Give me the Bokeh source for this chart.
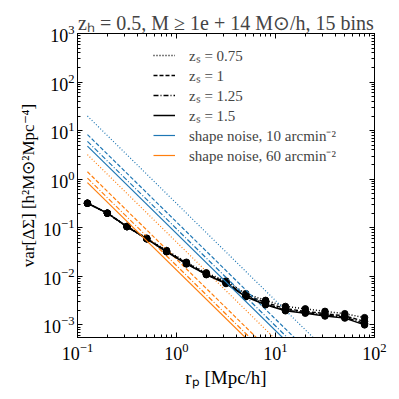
from bokeh.plotting import figure
from bokeh.models import LogAxis, FixedTicker, Legend, LegendItem, Range1d, CustomJSTickFormatter
from bokeh.embed import file_html
from bokeh.resources import INLINE

# ---- data ----
r_p = [0.126, 0.200, 0.316, 0.501, 0.794, 1.26, 2.00, 3.16, 5.01, 7.94,
       12.6, 20.0, 31.6, 50.1, 79.4]

var_zs075 = [0.32, 0.20, 0.107, 0.061, 0.034, 0.0195, 0.0118, 0.0080, 0.0044,
             0.0032, 0.0024, 0.00214, 0.0019, 0.0017, 0.00141]
var_zs100 = [0.32, 0.20, 0.106, 0.060, 0.033, 0.0188, 0.0113, 0.0075, 0.0041,
             0.0029, 0.00215, 0.0019, 0.0017, 0.00153, 0.00118]
var_zs125 = [0.32, 0.20, 0.105, 0.059, 0.0325, 0.0183, 0.0110, 0.0073, 0.0039,
             0.0027, 0.0020, 0.0018, 0.0016, 0.00144, 0.00107]
var_zs150 = [0.32, 0.20, 0.105, 0.059, 0.032, 0.018, 0.0108, 0.0071, 0.0038,
             0.0026, 0.00195, 0.00174, 0.00152, 0.00138, 0.00100]

# shape noise lines (first and last bin)
noise_r = [0.126, 79.4]
noise10_zs075 = [20.0, 5.02e-5]
noise10_zs100 = [8.3, 2.08e-5]
noise10_zs125 = [6.0, 1.51e-5]
noise10_zs150 = [4.8, 1.21e-5]
noise60_zs075 = [3.2, 8.0e-6]
noise60_zs100 = [1.42, 3.57e-6]
noise60_zs125 = [1.05, 2.64e-6]
noise60_zs150 = [0.85, 2.14e-6]

zs_labels = ["zₛ = 0.75", "zₛ = 1", "zₛ = 1.25", "zₛ = 1.5"]
noise_labels = ["shape noise, 10 arcmin⁻²", "shape noise, 60 arcmin⁻²"]
x_ticks = [0.1, 1, 10, 100]
y_ticks = [1e-3, 1e-2, 1e-1, 1, 10, 100, 1000]

title_text = "zₕ = 0.5, M ≥ 1e + 14 M⊙/h, 15 bins"
x_label = "rₚ [Mpc/h]"
y_label = "var[ΔΣ] [h²M⊙²Mpc⁻⁴]"

# ---- styling ----
FONT = "Liberation Serif"
BLUE = "#1f77b4"
ORANGE = "#ff7f0e"
dashes = ["1 2", "4 2", "5 2 1 2", "solid"]

def minor_for(majors):
    out = []
    for m in majors:
        for k in range(2, 10):
            out.append(m * k)
    return out

x_minor = minor_for([0.1, 1, 10])
y_minor = minor_for([1e-4, 1e-3, 1e-2, 1e-1, 1, 10, 100])

p = figure(x_axis_type="log", y_axis_type="log",
           x_range=Range1d(0.1, 100), y_range=Range1d(5.5e-4, 1e3),
           frame_width=297, frame_height=304,
           min_border_left=77, min_border_right=25,
           min_border_top=33, min_border_bottom=62,
           output_backend="svg", toolbar_location=None, title=title_text)
p.grid.visible = False
p.outline_line_color = "black"
p.background_fill_color = "white"
p.border_fill_color = "white"

p.title.text_font = FONT
p.title.text_font_size = "20px"
p.title.text_font_style = "normal"
p.title.align = "center"
p.title.standoff = 0
p.title.offset = 0

xt = FixedTicker(ticks=x_ticks, minor_ticks=x_minor)
yt = FixedTicker(ticks=y_ticks, minor_ticks=y_minor)

def style_axis(ax, labels=True):
    ax.major_tick_in = 5
    ax.major_tick_out = 0
    ax.minor_tick_in = 3
    ax.minor_tick_out = 0
    ax.axis_line_color = "black"
    ax.major_tick_line_color = "black"
    ax.minor_tick_line_color = "black"
    if labels:
        ax.major_label_text_font = FONT
        ax.major_label_text_font_size = "18px"
        ax.major_label_text_color = "black"
        ax.axis_label_text_font = FONT
        ax.axis_label_text_font_size = "17px"
        ax.axis_label_text_font_style = "normal"
        ax.axis_label_text_color = "black"
    else:
        ax.formatter = CustomJSTickFormatter(code="return ''")
        ax.major_label_standoff = 0

p.xaxis[0].ticker = xt
p.yaxis[0].ticker = yt
style_axis(p.xaxis[0])
style_axis(p.yaxis[0])
p.xaxis[0].axis_label = x_label
p.yaxis[0].axis_label = y_label
p.xaxis[0].axis_label_text_font_size = "19px"
p.xaxis[0].major_label_standoff = 5
p.yaxis[0].major_label_standoff = 3
p.xaxis[0].axis_label_standoff = 4
p.yaxis[0].axis_label_standoff = 2

top_ax = LogAxis(ticker=FixedTicker(ticks=x_ticks, minor_ticks=x_minor))
right_ax = LogAxis(ticker=FixedTicker(ticks=y_ticks, minor_ticks=y_minor))
style_axis(top_ax, labels=False)
style_axis(right_ax, labels=False)
p.add_layout(top_ax, "above")
p.add_layout(right_ax, "right")

series = [var_zs075, var_zs100, var_zs125, var_zs150]
n10 = [noise10_zs075, noise10_zs100, noise10_zs125, noise10_zs150]
n60 = [noise60_zs075, noise60_zs100, noise60_zs125, noise60_zs150]

black_renderers = []
blue_renderers = []
orange_renderers = []
for vals, a10, a60, dash in zip(series, n10, n60, dashes):
    r = p.line(r_p, vals, line_color="black", line_width=1.5, line_dash=dash)
    p.scatter(r_p, vals, size=6.5, color="black")
    b = p.line(noise_r, a10, line_color=BLUE, line_width=1.2, line_dash=dash)
    o = p.line(noise_r, a60, line_color=ORANGE, line_width=1.2, line_dash=dash)
    black_renderers.append(r)
    blue_renderers.append(b)
    orange_renderers.append(o)

items = [LegendItem(label=lab, renderers=[rr]) for lab, rr in zip(zs_labels, black_renderers)]
items.append(LegendItem(label=noise_labels[0], renderers=[blue_renderers[-1]]))
items.append(LegendItem(label=noise_labels[1], renderers=[orange_renderers[-1]]))

legend = Legend(items=items, location=(76, 172), padding=0, margin=0,
                spacing=0, label_height=16, glyph_height=16, glyph_width=22,
                label_standoff=14, label_text_font=FONT, label_text_font_size="15px",
                border_line_alpha=0, background_fill_alpha=0)
p.add_layout(legend, "center")

open("out.html", "w").write(file_html(p, INLINE))
